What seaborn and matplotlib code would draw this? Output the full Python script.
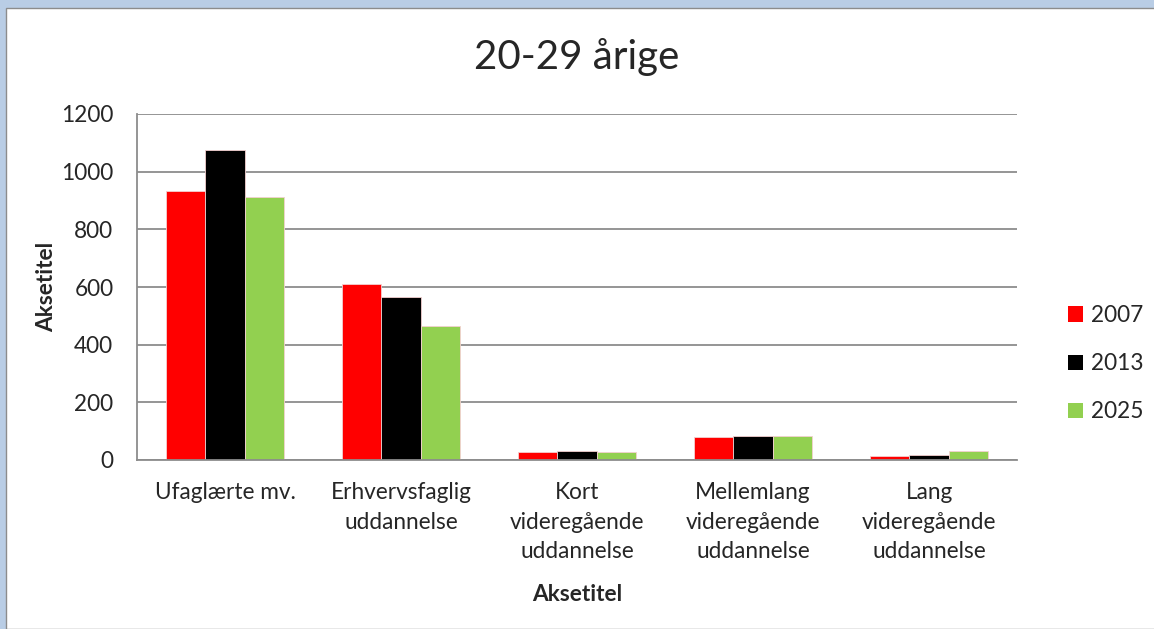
import matplotlib
matplotlib.use("Agg")
import matplotlib.pyplot as plt
from matplotlib.patches import Rectangle
import numpy as np
import pandas as pd
import seaborn as sns

# ── Data ──
categories = [
    "Ufaglærte mv.",
    "Erhvervsfaglig\nuddannelse",
    "Kort\nvideregående\nuddannelse",
    "Mellemlang\nvideregående\nuddannelse",
    "Lang\nvideregående\nuddannelse",
]
years = ["2007", "2013", "2025"]
values_2007 = [932, 609, 28, 81, 14]
values_2013 = [1075, 564, 31, 83, 17]
values_2025 = [912, 466, 28, 83, 30]
colors = ["#FF0000", "#000000", "#92D050"]
y_ticks = [0, 200, 400, 600, 800, 1000, 1200]

df = pd.DataFrame({
    "kategori": categories * 3,
    "år": [y for y in years for _ in categories],
    "antal": values_2007 + values_2013 + values_2025,
})

sns.set_style("white")
plt.rcParams["font.family"] = ["Lato", "DejaVu Sans"]

W, H = 1154, 629
FS = 16.3
fig = plt.figure(figsize=(W / 100, H / 100), dpi=100)
fig.patch.set_facecolor("#B9CDE5")
# white chart area with thin grey edge (blue frame only shows top/left)
fig.add_artist(Rectangle((6 / W, 0), 1.0, 1 - 8 / H, transform=fig.transFigure,
                         facecolor="white", edgecolor="#8C8C8C", lw=1.0, zorder=0))

ax = fig.add_axes([137 / W, 1 - 460 / H, 880 / W, 346 / H])
ax.set_facecolor("none")

sns.barplot(data=df, x="kategori", y="antal", hue="år", palette=colors,
            width=0.665, gap=0, saturation=1, ax=ax, errorbar=None, legend=True,
            linewidth=0.6, edgecolor="#F4D0D0")

ax.set_xlim(-0.5, 4.5)
ax.set_ylim(0, 1200)
ax.set_yticks(y_ticks)
ax.set_yticklabels([str(t) for t in y_ticks])
ax.yaxis.grid(True, color="#8C8C8C", lw=1.3)
ax.set_axisbelow(True)

for side in ["top", "right"]:
    ax.spines[side].set_visible(False)
for side in ["left", "bottom"]:
    ax.spines[side].set_color("#8C8C8C")
    ax.spines[side].set_linewidth(1.3)

ax.tick_params(axis="y", length=7, width=1.3, color="#8C8C8C", labelsize=FS, pad=10)
ax.tick_params(axis="x", length=0, labelsize=FS, pad=16)
for lab in ax.get_xticklabels():
    lab.set_linespacing(1.5)

ax.set_xlabel("Aksetitel", fontsize=FS, fontweight="bold", labelpad=16)
ax.set_ylabel("Aksetitel", fontsize=FS, fontweight="bold", labelpad=3)

fig.text(0.5, 1 - 57 / H, "20-29 årige", ha="center", va="center", fontsize=29)

leg = ax.legend(loc="center left", bbox_to_anchor=(1.058, 0.278), frameon=False,
                fontsize=FS, handlelength=0.68, handleheight=0.68,
                handletextpad=0.32, labelspacing=1.2, borderaxespad=0,
                borderpad=0, title=None)
for h in leg.legend_handles:
    h.set_linewidth(0)

fig.savefig("out.png", dpi=100, facecolor=fig.get_facecolor())
